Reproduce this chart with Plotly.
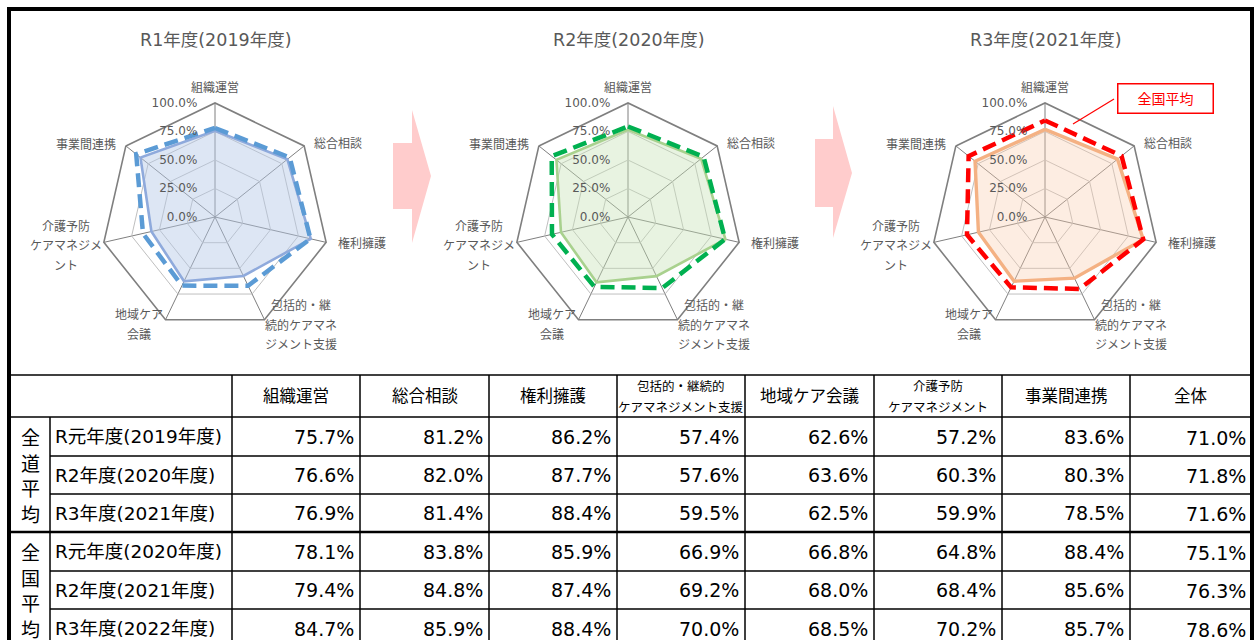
import plotly.graph_objects as go

W, H = 1258, 640

# ---------------- data ----------------
categories = ["組織運営", "総合相談", "権利擁護", "包括的・継続的ケアマネジメント支援",
              "地域ケア会議", "介護予防ケアマネジメント", "事業間連携"]
radar_labels = ["組織運営", "総合相談", "権利擁護", "包括的・継<br>続的ケアマネ<br>ジメント支援",
                "地域ケア<br>会議", "介護予防<br>ケアマネジメ<br>ント", "事業間連携"]
header_labels = ["組織運営", "総合相談", "権利擁護", "包括的・継続的<br>ケアマネジメント支援",
                 "地域ケア会議", "介護予防<br>ケアマネジメント", "事業間連携", "全体"]
chart_titles = ["R1年度(2019年度)", "R2年度(2020年度)", "R3年度(2021年度)"]

group_labels = ["全道平均", "全国平均"]
dou_row_labels = ["R元年度(2019年度)", "R2年度(2020年度)", "R3年度(2021年度)"]
zen_row_labels = ["R元年度(2020年度)", "R2年度(2021年度)", "R3年度(2022年度)"]

dou_r1 = [75.7, 81.2, 86.2, 57.4, 62.6, 57.2, 83.6]
dou_r2 = [76.6, 82.0, 87.7, 57.6, 63.6, 60.3, 80.3]
dou_r3 = [76.9, 81.4, 88.4, 59.5, 62.5, 59.9, 78.5]
zen_r1 = [78.1, 83.8, 85.9, 66.9, 66.8, 64.8, 88.4]
zen_r2 = [79.4, 84.8, 87.4, 69.2, 68.0, 68.4, 85.6]
zen_r3 = [84.7, 85.9, 88.4, 70.0, 68.5, 70.2, 85.7]
dou_total = [71.0, 71.8, 71.6]
zen_total = [75.1, 76.3, 78.6]

radial_ticks = [0, 0.25, 0.5, 0.75, 1.0]

# ---------------- styles ----------------
FONT = "DejaVu Sans, Noto Sans CJK JP, sans-serif"
GRAY = "#595959"
solid_colors = ["#8FAADC", "#A9D18E", "#F4B183"]
solid_widths = [2.6, 2.6, 3.4]
fill_colors = ["rgba(180,199,231,0.45)", "rgba(197,224,180,0.40)", "rgba(248,203,173,0.35)"]
dash_colors = ["#5B9BD5", "#00B050", "#FF0000"]
centers = [(215, 217), (628, 217), (1045, 217)]
R = 114
# label placement around each radar: (dx of anchor, dy of first line, xanchor)
label_place = [(0, -129, "center"), (97, -74, "left"), (121, 26, "left"),
               (86, 88, "center"), (-76, 98, "center"), (-149, 9, "center"),
               (-97, -73, "right")]
LABEL_LINE = 20

dou_sets = [dou_r1, dou_r2, dou_r3]
zen_sets = [zen_r1, zen_r2, zen_r3]

fig = go.Figure()

# hidden cartesian axis in pixel units (for table, arrows, frame)
fig.add_trace(go.Scatter(x=[0], y=[0], mode="markers", marker=dict(opacity=0),
                         hoverinfo="skip", showlegend=False))

theta_closed = categories + [categories[0]]
for i in range(3):
    sp = "polar" if i == 0 else f"polar{i+1}"
    d = dou_sets[i]
    z = zen_sets[i]
    fig.add_trace(go.Scatterpolar(
        r=[v / 100 for v in d] + [d[0] / 100], theta=theta_closed, mode="lines",
        line=dict(color=solid_colors[i], width=solid_widths[i]), fill="toself",
        fillcolor=fill_colors[i], subplot=sp, showlegend=False, name="全道平均"))
    fig.add_trace(go.Scatterpolar(
        r=[v / 100 for v in z] + [z[0] / 100], theta=theta_closed, mode="lines",
        line=dict(color=dash_colors[i], width=4.5, dash="14px,7px"),
        subplot=sp, showlegend=False, name="全国平均"))

layout = dict(
    width=W, height=H, margin=dict(l=0, r=0, t=0, b=0),
    paper_bgcolor="white", plot_bgcolor="rgba(0,0,0,0)",
    font=dict(family=FONT, color=GRAY),
    xaxis=dict(domain=[0, 1], range=[0, W], visible=False, fixedrange=True),
    yaxis=dict(domain=[0, 1], range=[H, 0], visible=False, fixedrange=True),
)
for i, (cx, cy) in enumerate(centers):
    key = "polar" if i == 0 else f"polar{i+1}"
    layout[key] = dict(
        domain=dict(x=[(cx - R) / W, (cx + R) / W], y=[1 - (cy + R) / H, 1 - (cy - R) / H]),
        gridshape="linear", bgcolor="rgba(0,0,0,0)",
        angularaxis=dict(direction="clockwise", rotation=90, type="category",
                         categoryorder="array", categoryarray=categories,
                         showline=True, linecolor="#7F7F7F", linewidth=1.6,
                         gridcolor="#7F7F7F", gridwidth=1.4, ticks="",
                         showticklabels=False),
        radialaxis=dict(range=[0, 1], tickvals=radial_ticks, tickformat=".1%",
                        showline=False, angle=90, side="counterclockwise",
                        tickangle=90, ticks="outside", ticklen=13,
                        tickcolor="rgba(0,0,0,0)",
                        gridcolor="#BFBFBF", gridwidth=1,
                        tickfont=dict(size=12, color=GRAY, family=FONT)),
    )
fig.update_layout(**layout)

shapes = []
ann = []

# chart titles and category labels around each radar
for i, (cx, cy) in enumerate(centers):
    ann.append(dict(x=cx, y=40, xref="x", yref="y", text=chart_titles[i], showarrow=False,
                    font=dict(size=17.5, color=GRAY, family=FONT)))
    for lab, (dx, dy, xa) in zip(radar_labels, label_place):
        for n, line in enumerate(lab.split("<br>")):
            ann.append(dict(x=cx + dx, y=cy + dy + n * LABEL_LINE, xref="x", yref="y",
                            text=line, showarrow=False, xanchor=xa,
                            font=dict(size=12, color=GRAY, family=FONT)))

# arrows between charts
for (x0, xm, xt, yb0, yb1, yh0, yh1, yt) in [(393, 412, 431, 143, 209, 110, 243, 176),
                                             (815, 833, 852, 139, 207, 106, 238, 173)]:
    path = (f"M{x0},{yb0} L{xm},{yb0} L{xm},{yh0} L{xt},{yt} L{xm},{yh1} "
            f"L{xm},{yb1} L{x0},{yb1} Z")
    shapes.append(dict(type="path", path=path, xref="x", yref="y",
                       fillcolor="#FFCCCC", line=dict(width=0), layer="below"))

# 全国平均 callout
shapes.append(dict(type="line", xref="x", yref="y", x0=1114, y0=99, x1=1073, y1=124,
                   line=dict(color="#FF0000", width=1.2)))
ann.append(dict(x=1165, y=98, xref="x", yref="y", text="全国平均", showarrow=False,
                font=dict(size=14, color="#FF0000", family=FONT),
                bordercolor="#FF0000", borderwidth=1.5, width=92, height=26,
                bgcolor="white"))

# ---------------- table ----------------
col_edges = [9, 50, 232, 360, 489, 617, 745, 874, 1002, 1130, 1252]
row_edges = [375, 417, 456, 494, 532, 571, 609, 648]
val_x_edges = col_edges[2:]

for y in row_edges:
    xs = 9 if y in (375, 417, 532) else 50
    shapes.append(dict(type="line", xref="x", yref="y", x0=xs, x1=1252, y0=y, y1=y,
                       line=dict(color="black", width=2.5 if y == 532 else 1.5)))
shapes.append(dict(type="line", xref="x", yref="y", x0=50, x1=50, y0=417, y1=648,
                   line=dict(color="black", width=1.5)))
for x in val_x_edges[:-1]:
    shapes.append(dict(type="line", xref="x", yref="y", x0=x, x1=x, y0=375, y1=648,
                       line=dict(color="black", width=1.5)))

# header texts
for k, lab in enumerate(header_labels):
    xc = (val_x_edges[k] + val_x_edges[k + 1]) / 2
    parts = lab.split("<br>")
    if len(parts) == 1:
        ann.append(dict(x=xc, y=396, xref="x", yref="y", text=lab, showarrow=False,
                        font=dict(size=16.5, color="black", family=FONT)))
    else:
        for n, p in enumerate(parts):
            ann.append(dict(x=xc, y=386 + n * 21, xref="x", yref="y", text=p,
                            showarrow=False,
                            font=dict(size=12.5, color="black", family=FONT)))

groups = [(group_labels[0], dou_row_labels, dou_sets, dou_total),
          (group_labels[1], zen_row_labels, zen_sets, zen_total)]
for g, (glab, rlabels, sets, totals) in enumerate(groups):
    ytop = row_edges[1 + 3 * g]
    for n, ch in enumerate(glab):
        ann.append(dict(x=30, y=ytop + 21 + n * 25.5, xref="x", yref="y", text=ch,
                        showarrow=False, font=dict(size=19, color="black", family=FONT)))
    for r in range(3):
        yc = (row_edges[1 + 3 * g + r] + row_edges[2 + 3 * g + r]) / 2
        ann.append(dict(x=53, y=yc, xref="x", yref="y", text=rlabels[r], showarrow=False,
                        xanchor="left", font=dict(size=18.5, color="black", family=FONT)))
        vals = sets[r] + [totals[r]]
        for k, v in enumerate(vals):
            ann.append(dict(x=val_x_edges[k + 1] - 4, y=yc + (1 if k == 7 else 0),
                            xref="x", yref="y", text=f"{v:.1f}%", showarrow=False,
                            xanchor="right", font=dict(size=19, color="black", family=FONT)))

# outer frame
shapes.append(dict(type="rect", xref="x", yref="y", x0=9, y0=9, x1=1252, y1=660,
                   line=dict(color="black", width=4)))

fig.update_layout(shapes=shapes, annotations=ann)

fig.write_html("out.html", include_plotlyjs=True,
               config={"displayModeBar": False},
               post_script="document.body.style.margin='0';")
